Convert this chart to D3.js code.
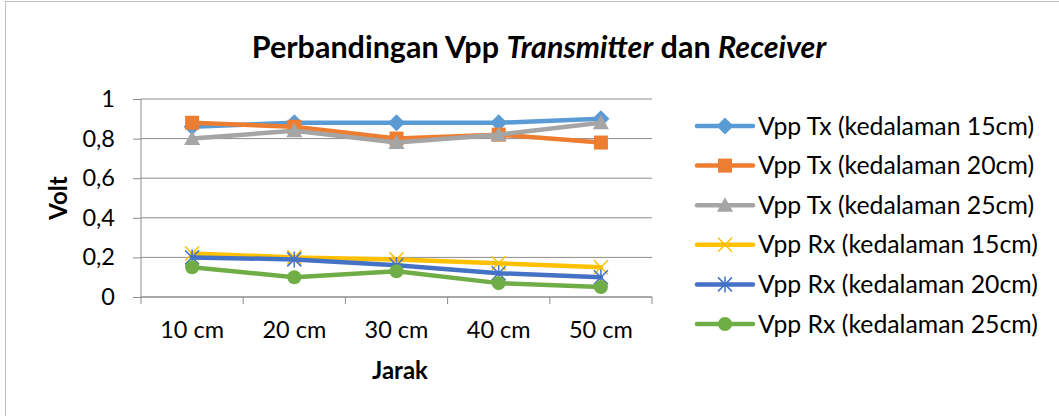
<!DOCTYPE html>
<html><head><meta charset="utf-8">
<script src="https://cdn.jsdelivr.net/npm/d3@7"></script>
<style>body{margin:0;background:#fff}text{font-family:Lato,"Open Sans",sans-serif}</style>
</head><body><svg id="c" width="1059" height="416"></svg>
<script>
const categories = ["10 cm","20 cm","30 cm","40 cm","50 cm"];
const seriesNames = ["Vpp Tx (kedalaman 15cm)","Vpp Tx (kedalaman 20cm)","Vpp Tx (kedalaman 25cm)","Vpp Rx (kedalaman 15cm)","Vpp Rx (kedalaman 20cm)","Vpp Rx (kedalaman 25cm)"];
const txDepth15 = [0.86,0.88,0.88,0.88,0.90];
const txDepth20 = [0.88,0.86,0.80,0.82,0.78];
const txDepth25 = [0.80,0.84,0.78,0.82,0.88];
const rxDepth15 = [0.22,0.20,0.19,0.17,0.15];
const rxDepth20 = [0.20,0.19,0.16,0.12,0.10];
const rxDepth25 = [0.15,0.10,0.13,0.07,0.05];
const yTicks = [0,0.2,0.4,0.6,0.8,1];
const yTickLabels = ["0","0,2","0,4","0,6","0,8","1"];

const seriesValues = [txDepth15,txDepth20,txDepth25,rxDepth15,rxDepth20,rxDepth25];
const colors = ["#5B9BD5","#ED7D31","#A5A5A5","#FFC000","#4472C4","#70AD47"];
const markers = ["diamond","square","triangle","x","star","circle"];

const svg = d3.select("#c");
svg.append("rect").attr("x",5.5).attr("y",1.5).attr("width",1100).attr("height",500).attr("fill","#fff").attr("stroke","#BFBFBF").attr("stroke-width",1);

const L=141,R=652,T=99,B=297;
const x = d3.scaleBand().domain(categories).range([L,R]);
const y = d3.scaleLinear().domain([0,1]).range([B,T]);

svg.append("g").selectAll("line").data(yTicks).join("line")
  .attr("x1",L).attr("x2",R).attr("y1",d=>y(d)).attr("y2",d=>y(d))
  .attr("stroke","#8C8C8C").attr("stroke-width",1);

const ya = svg.append("g").attr("transform",`translate(${L},0)`)
  .call(d3.axisLeft(y).tickValues(yTicks).tickFormat((d,i)=>yTickLabels[i]).tickSize(8).tickPadding(18));
ya.select(".domain").attr("stroke","#8C8C8C").attr("d",`M0,${T}V${B}`);
ya.selectAll(".tick line").attr("stroke","#8C8C8C");
ya.selectAll("text").attr("font-size",23.5).attr("fill","#000").style("font-family","Lato");

const xa = svg.append("g").attr("transform",`translate(0,${B})`)
  .call(d3.axisBottom(x).tickSize(0).tickPadding(24));
xa.select(".domain").attr("stroke","#8C8C8C").attr("d",`M${L},0H${R}`);
xa.selectAll("text").attr("font-size",23.5).attr("fill","#000").style("font-family","Lato");
const bounds = categories.map(c=>x(c)).concat([R]);
xa.selectAll(".bt").data(bounds).join("line").attr("class","bt")
  .attr("x1",d=>d).attr("x2",d=>d).attr("y1",0).attr("y2",7).attr("stroke","#8C8C8C");

const title = svg.append("text").attr("x",539).attr("y",58).attr("text-anchor","middle")
  .attr("font-size",30.5).attr("font-weight","bold");
title.append("tspan").text("Perbandingan Vpp ");
title.append("tspan").attr("font-style","italic").text("Transmitter");
title.append("tspan").text(" dan ");
title.append("tspan").attr("font-style","italic").text("Receiver");

svg.append("text").attr("x",400).attr("y",379).attr("text-anchor","middle").attr("font-size",24).attr("font-weight","bold").text("Jarak");
svg.append("text").attr("transform","translate(67,198) rotate(-90)").attr("text-anchor","middle").attr("font-size",24).attr("font-weight","bold").text("Volt");

function drawMarker(g,type,color){
  if(type==="diamond") g.append("path").attr("d","M0,-8.5L8.5,0L0,8.5L-8.5,0Z").attr("fill",color);
  else if(type==="square") g.append("rect").attr("x",-7).attr("y",-7).attr("width",14).attr("height",14).attr("fill",color);
  else if(type==="triangle") g.append("path").attr("d","M0,-8L8,6.5L-8,6.5Z").attr("fill",color);
  else if(type==="circle") g.append("circle").attr("r",7).attr("fill",color);
  else if(type==="x") g.append("path").attr("d","M-7,-7L7,7M-7,7L7,-7").attr("stroke",color).attr("stroke-width",1.5).attr("fill","none");
  else if(type==="star") g.append("path").attr("d","M-7,-7L7,7M-7,7L7,-7M0,-8V8").attr("stroke",color).attr("stroke-width",1.5).attr("fill","none");
}

const line = d3.line().x((d,i)=>x(categories[i])+x.bandwidth()/2).y(d=>y(d));
seriesValues.forEach((vals,si)=>{
  const g = svg.append("g");
  g.append("path").attr("d",line(vals)).attr("fill","none").attr("stroke",colors[si]).attr("stroke-width",4.5).attr("stroke-linejoin","round").attr("stroke-linecap","round");
  vals.forEach((v,i)=>{
    const m = g.append("g").attr("transform",`translate(${x(categories[i])+x.bandwidth()/2},${y(v)})`);
    drawMarker(m,markers[si],colors[si]);
  });
});

seriesNames.forEach((n,i)=>{
  const yy = 126 + i*39.6;
  const g = svg.append("g");
  g.append("line").attr("x1",697).attr("x2",753).attr("y1",yy).attr("y2",yy).attr("stroke",colors[i]).attr("stroke-width",4.5).attr("stroke-linecap","round");
  const m = g.append("g").attr("transform",`translate(725,${yy})`);
  drawMarker(m,markers[i],colors[i]);
  g.append("text").attr("x",758).attr("y",yy+8.5).attr("font-size",24.8).text(n);
});
</script></body></html>
